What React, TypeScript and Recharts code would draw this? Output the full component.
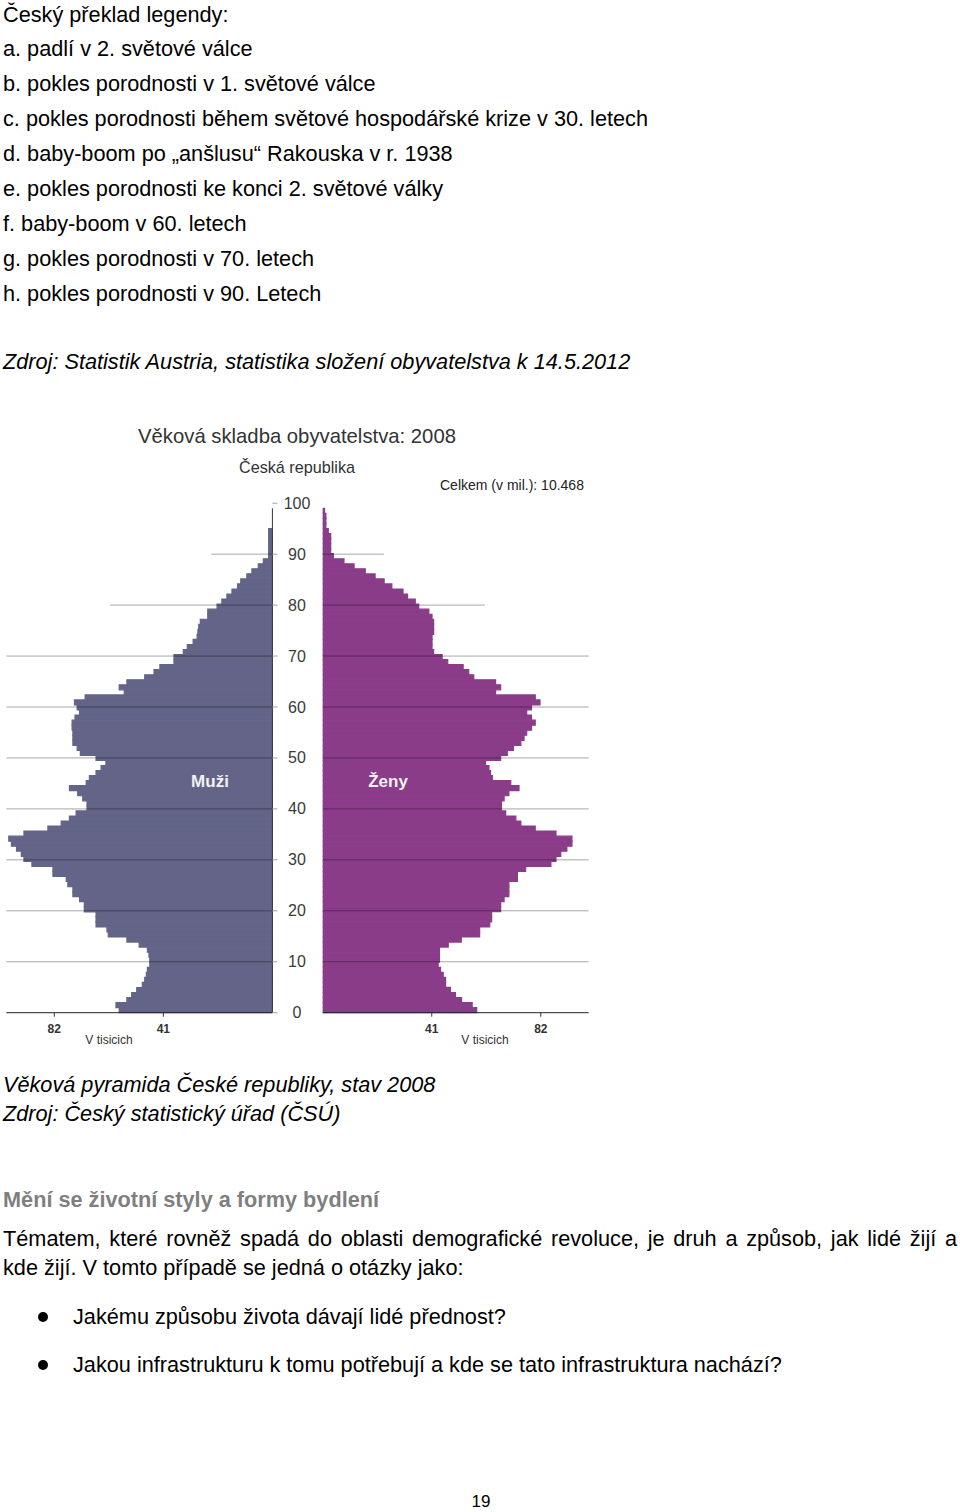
import { BarChart, Bar, XAxis, YAxis, ReferenceLine } from 'recharts';

const FONT = '"Liberation Sans", Arial, Helvetica, sans-serif';

const legendLines = [
  'Český překlad legendy:',
  'a. padlí v 2. světové válce',
  'b. pokles porodnosti v 1. světové válce',
  'c. pokles porodnosti během světové hospodářské krize v 30. letech',
  'd. baby-boom po „anšlusu“ Rakouska v r. 1938',
  'e. pokles porodnosti ke konci 2. světové války',
  'f. baby-boom v 60. letech',
  'g. pokles porodnosti v 70. letech',
  'h. pokles porodnosti v 90. Letech',
];

// age 0..99, values in thousands
const ages = Array.from({ length: 100 }, (_, i) => i);

const muzi = [
  57.6, 58.8, 54.7, 52.9, 51.0, 48.9, 48.0, 47.4, 47.0, 46.1,
  46.1, 46.4, 47.0, 50.1, 54.7, 61.7, 62.2, 66.3, 66.3, 66.3,
  70.7, 70.7, 72.5, 75.0, 75.0, 76.9, 77.5, 82.5, 82.5, 90.4,
  93.4, 94.4, 96.2, 98.1, 99.1, 93.4, 84.4, 79.4, 76.3, 73.8,
  69.7, 69.7, 71.3, 73.2, 76.3, 70.0, 68.8, 66.3, 64.4, 62.6,
  66.3, 72.2, 73.4, 75.0, 75.0, 75.0, 75.3, 75.3, 74.2, 72.5,
  73.4, 74.4, 70.4, 55.7, 57.6, 54.7, 48.0, 44.5, 42.3, 37.0,
  37.0, 33.5, 32.0, 29.8, 28.3, 28.0, 27.7, 27.1, 24.3, 24.3,
  20.8, 19.0, 17.1, 15.2, 13.1, 11.9, 9.6, 7.7, 5.3, 3.4,
  1.4, 1.4, 1.4, 1.4, 1.4, 1.4, 0, 0, 0, 0,
];

const zeny = [
  57.9, 56.2, 52.2, 49.9, 48.0, 46.2, 46.2, 45.3, 44.3, 43.4,
  43.9, 43.9, 43.9, 47.2, 52.1, 59.0, 59.0, 62.8, 63.5, 63.5,
  66.9, 66.9, 68.2, 70.0, 70.0, 70.0, 73.2, 73.2, 76.3, 85.8,
  87.7, 89.5, 91.8, 93.7, 93.7, 87.7, 79.9, 74.5, 72.6, 68.8,
  67.2, 67.2, 68.2, 70.0, 73.8, 70.7, 63.8, 63.1, 62.5, 61.2,
  66.9, 69.4, 71.7, 74.5, 75.7, 76.7, 78.5, 79.9, 78.5, 76.7,
  78.5, 81.7, 79.9, 65.0, 66.9, 65.0, 56.8, 54.9, 52.8, 47.0,
  44.9, 41.7, 41.1, 41.1, 41.1, 41.7, 41.7, 41.7, 41.1, 39.9,
  36.1, 34.8, 31.9, 30.2, 26.0, 23.1, 19.7, 16.0, 11.8, 8.0,
  4.0, 3.0, 3.0, 3.0, 3.0, 2.1, 1.2, 1.2, 1.2, 0.7,
];

const ageTicks = [0, 10, 20, 30, 40, 50, 60, 70, 80, 90, 100];
const thousandTicks = [41, 82];
const fullGrid = [10, 20, 30, 40, 50, 60, 70];
const shortGrid = [
  { age: 90, reach: 23 },
  { age: 80, reach: 61 },
];

const rows = ages.map((age, i) => ({ age, muzi: muzi[i], zeny: zeny[i] }));

const MALE = '#636487';
const FEMALE = '#8b3c89';

const abs = (left: number, top: number, extra: React.CSSProperties = {}): React.CSSProperties => ({
  position: 'absolute',
  left,
  top,
  whiteSpace: 'nowrap',
  ...extra,
});

function Pyramid({ side }: { side: 'left' | 'right' }) {
  const isLeft = side === 'left';
  const key = isLeft ? 'muzi' : 'zeny';
  const color = isLeft ? MALE : FEMALE;
  return (
    <BarChart
      width={isLeft ? 330 : 298.7}
      height={573}
      data={rows}
      layout="vertical"
      barCategoryGap={0}
      margin={{ top: 28.3, right: isLeft ? 0 : 10, bottom: 0, left: isLeft ? 6.4 : 0 }}
    >
      <XAxis
        type="number"
        domain={[0, 100]}
        reversed={isLeft}
        ticks={thousandTicks}
        allowDataOverflow
        height={40.3}
        tickSize={4}
        tickMargin={8}
        axisLine={{ stroke: '#222' }}
        tickLine={{ stroke: '#333' }}
        tick={{ fontSize: 12, fontWeight: 'bold', fill: '#333', fontFamily: FONT }}
      />
      <YAxis yAxisId="cat" type="category" dataKey="age" reversed hide />
      {isLeft ? (
        <YAxis
          yAxisId="n"
          type="number"
          orientation="right"
          reversed
          domain={[0, 100]}
          ticks={ageTicks}
          width={57.6}
          tickSize={5}
          tickMargin={19.6}
          axisLine={{ stroke: '#333' }}
          tickLine={{ stroke: '#a0a0a0' }}
          tick={({ x, y, payload }: any) => (
            <text x={x} y={y} textAnchor="middle" dominantBaseline="central" fontSize={16} fill="#3a3a3a" fontFamily={FONT}>
              {payload.value}
            </text>
          )}
        />
      ) : (
        <YAxis
          yAxisId="n"
          type="number"
          orientation="left"
          reversed
          domain={[0, 100]}
          ticks={ageTicks}
          width={22.7}
          tickSize={5}
          axisLine={{ stroke: '#333' }}
          tickLine={{ stroke: '#a0a0a0' }}
          tick={() => <g />}
        />
      )}
      <Bar yAxisId="cat" dataKey={key} fill={color} stroke={color} strokeWidth={1.2} isAnimationActive={false} />
      {fullGrid.map((a) => (
        <ReferenceLine key={a} yAxisId="n" y={a} stroke="#000" strokeOpacity={0.35} />
      ))}
      {shortGrid.map((g) => (
        <ReferenceLine
          key={g.age}
          yAxisId="n"
          segment={[{ x: 0, y: g.age }, { x: g.reach, y: g.age }]}
          stroke="#000"
          strokeOpacity={0.35}
        />
      ))}
    </BarChart>
  );
}

export default function App() {
  const body: React.CSSProperties = { fontFamily: FONT, fontSize: 21.7, color: '#000' };
  const dot: React.CSSProperties = { width: 10, height: 10, borderRadius: 5, background: '#000' };
  return (
    <div style={{ position: 'absolute', left: 0, top: 0, width: 960, height: 1512, background: '#fff', ...body }}>
      <div style={abs(3, -2.5, { lineHeight: '34.9px' })}>
        {legendLines.map((l) => (
          <div key={l}>{l}</div>
        ))}
      </div>
      <div style={abs(3, 345, { lineHeight: '34px', fontStyle: 'italic' })}>
        Zdroj: Statistik Austria, statistika složení obyvatelstva k 14.5.2012
      </div>

      <div style={abs(0, 422, { width: 594, textAlign: 'center', fontSize: 20.3, color: '#333', lineHeight: '28px' })}>
        Věková skladba obyvatelstva: 2008
      </div>
      <div style={abs(0, 456, { width: 594, textAlign: 'center', fontSize: 16.2, color: '#333', lineHeight: '22px' })}>
        Česká republika
      </div>
      <div style={abs(440, 476, { fontSize: 14, color: '#222', lineHeight: '18px' })}>Celkem (v mil.): 10.468</div>

      <div style={abs(0, 480)}>
        <Pyramid side="left" />
      </div>
      <div style={abs(300, 480)}>
        <Pyramid side="right" />
      </div>

      <div style={abs(160, 771, { width: 100, textAlign: 'center', fontSize: 17, fontWeight: 'bold', color: '#f2f2f2', lineHeight: '22px' })}>
        Muži
      </div>
      <div style={abs(338, 771, { width: 100, textAlign: 'center', fontSize: 17, fontWeight: 'bold', color: '#f2f2f2', lineHeight: '22px' })}>
        Ženy
      </div>
      <div style={abs(59, 1032, { width: 100, textAlign: 'center', fontSize: 12, color: '#333', lineHeight: '16px' })}>V tisicich</div>
      <div style={abs(435, 1032, { width: 100, textAlign: 'center', fontSize: 12, color: '#333', lineHeight: '16px' })}>V tisicich</div>

      <div style={abs(3, 1070, { lineHeight: '29px', fontStyle: 'italic' })}>
        <div>Věková pyramida České republiky, stav 2008</div>
        <div>Zdroj: Český statistický úřad (ČSÚ)</div>
      </div>

      <div style={abs(3, 1184, { lineHeight: '32px', fontWeight: 'bold', color: '#7f7f7f' })}>
        Mění se životní styly a formy bydlení
      </div>
      <div style={abs(3, 1224, { width: 954, lineHeight: '29px', textAlign: 'justify', textAlignLast: 'justify' as any })}>
        Tématem, které rovněž spadá do oblasti demografické revoluce, je druh a způsob, jak lidé žijí a
      </div>
      <div style={abs(3, 1253, { lineHeight: '29px' })}>kde žijí. V tomto případě se jedná o otázky jako:</div>

      <div style={abs(38, 1312, dot)} />
      <div style={abs(73, 1302, { lineHeight: '29px' })}>Jakému způsobu života dávají lidé přednost?</div>
      <div style={abs(38, 1360, dot)} />
      <div style={abs(73, 1350, { lineHeight: '29px' })}>
        Jakou infrastrukturu k tomu potřebují a kde se tato infrastruktura nachází?
      </div>

      <div style={abs(431, 1490, { width: 100, textAlign: 'center', fontSize: 17, lineHeight: '24px' })}>19</div>
    </div>
  );
}
